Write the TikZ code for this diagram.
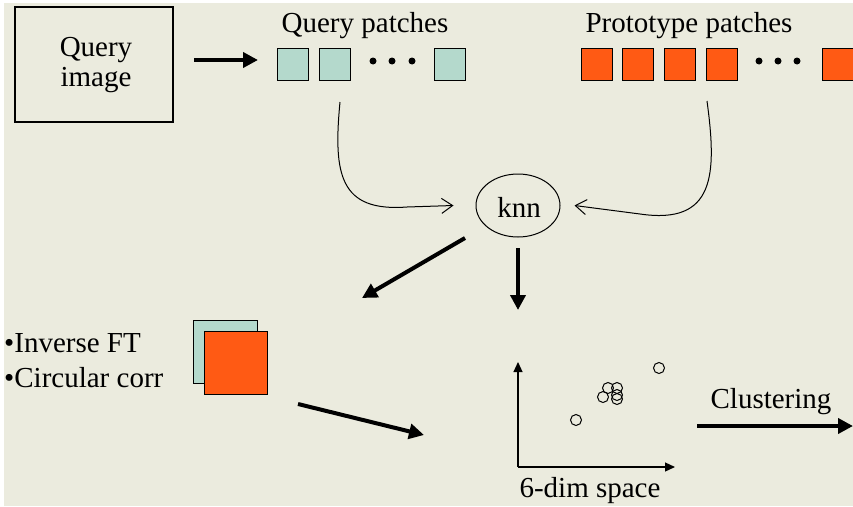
\documentclass[tikz,border=0pt]{standalone}
\usepackage{fontspec}
\setmainfont{Liberation Serif}
\usetikzlibrary{arrows.meta,shapes.geometric}
\definecolor{bgc}{RGB}{235,235,222}
\definecolor{teal}{RGB}{180,217,204}
\definecolor{orng}{RGB}{255,90,20}
\tikzset{
  txt/.style={font=\fontsize{29}{33}\selectfont, inner sep=0pt, anchor=base},
  qpatch/.style={draw=black, line width=1pt, fill=teal, minimum width=31pt, minimum height=32pt, inner sep=0pt},
  ppatch/.style={draw=black, line width=1pt, fill=orng, minimum width=31pt, minimum height=32pt, inner sep=0pt},
  bigarrow/.style={line width=4pt, -{Triangle[length=15pt,width=15pt]}},
  thinarrow/.style={line width=1pt, -{Straight Barb[length=11pt,width=15pt]}},
  axisarrow/.style={line width=1.2pt, -{Triangle[length=10pt,width=9pt]}},
  dot/.style={circle, fill=black, minimum size=7pt, inner sep=0pt},
  pt/.style={circle, draw=black, line width=1pt, minimum size=11pt, inner sep=0pt},
}
\begin{document}
\begin{tikzpicture}[x=1pt,y=-1pt]
\useasboundingbox (0,0) rectangle (853,506);
\fill[white] (0,0) rectangle (853,506);
\fill[bgc] (4,3) rectangle (853,506);

% Query image box
\node[draw=black, line width=1.2pt, minimum width=158pt, minimum height=115pt, inner sep=0pt] (qimg) at (94,64.5) {};
\node[txt] (qt1) at (96,56) {Query};
\node[txt] (qt2) at (96,86) {image};

% Query patches
\node[txt] (qlab) at (365,32) {Query patches};
\node[qpatch] (q1) at (292.5,64) {};
\node[qpatch] (q2) at (334.5,64) {};
\node[dot] (qd1) at (373,61) {};
\node[dot] (qd2) at (392,61) {};
\node[dot] (qd3) at (412,61) {};
\node[qpatch] (q3) at (450,64) {};

% Prototype patches
\node[txt] (plab) at (689,32) {Prototype patches};
\node[ppatch] (p1) at (596.5,64) {};
\node[ppatch] (p2) at (637.5,64) {};
\node[ppatch] (p3) at (680,64) {};
\node[ppatch] (p4) at (721.5,64) {};
\node[dot] (pd1) at (759,61) {};
\node[dot] (pd2) at (778,61) {};
\node[dot] (pd3) at (797,61) {};
\node[ppatch] (p5) at (838,64) {};

\coordinate (a0s) at (194,60);
\coordinate (a0e) at (258,60);
\draw[bigarrow] (a0s) -- (a0e);

% knn
\node[ellipse, draw=black, line width=1pt, minimum width=84pt, minimum height=63pt, inner sep=0pt] (knn) at (518,205.5) {};
\node[txt] (knnt) at (519,217) {knn};

\coordinate (qs) at (340,102);
\coordinate (ps) at (707,101);
\draw[thinarrow] (qs) .. controls (333,175) and (340,212) .. (407,207) -- ([xshift=-22pt]knn.west);
\draw[thinarrow] (ps) .. controls (717,175) and (715,225) .. (640,214) -- ([xshift=14pt]knn.east);

% Arrows from knn
\coordinate (c1s) at (465,238);
\coordinate (c1e) at (362,298);
\draw[bigarrow] (c1s) -- (c1e);
\coordinate (c2s) at (518,248);
\coordinate (c2e) at (518,310);
\draw[bigarrow] (c2s) -- (c2e);

% Inverse FT block
\node[txt, anchor=base west] (b1) at (4,352) {•Inverse FT};
\node[txt, anchor=base west] (b2) at (4,387) {•Circular corr};
\node[draw=black, line width=1pt, fill=teal, minimum width=64pt, minimum height=63pt, inner sep=0pt] (sq1) at (225,351.5) {};
\node[draw=black, line width=1pt, fill=orng, minimum width=63pt, minimum height=63pt, inner sep=0pt] (sq2) at (235.5,362.5) {};
\coordinate (c3s) at (298,404);
\coordinate (c3e) at (424,435);
\draw[bigarrow] (c3s) -- (c3e);

% plot
\coordinate (o) at (518,467);
\coordinate (ytip) at (518,362);
\coordinate (xtip) at (675,467);
\draw[axisarrow] (o) -- (ytip);
\draw[axisarrow] (o) -- (xtip);
\node[pt] (pa) at (576,420) {};
\node[pt] (pb) at (659,368) {};
\node[pt] (pc) at (608,388) {};
\node[pt] (pd) at (617,388) {};
\node[pt] (pe) at (603,397) {};
\node[pt] (pf) at (617,395) {};
\node[pt] (pg) at (617,399) {};
\node[txt] (dimlab) at (590,497) {6-dim space};

% clustering
\node[txt] (cl) at (771,408) {Clustering};
\coordinate (c4s) at (697,426);
\coordinate (c4e) at (853,426);
\draw[bigarrow] (c4s) -- (c4e);
\end{tikzpicture}
\end{document}
